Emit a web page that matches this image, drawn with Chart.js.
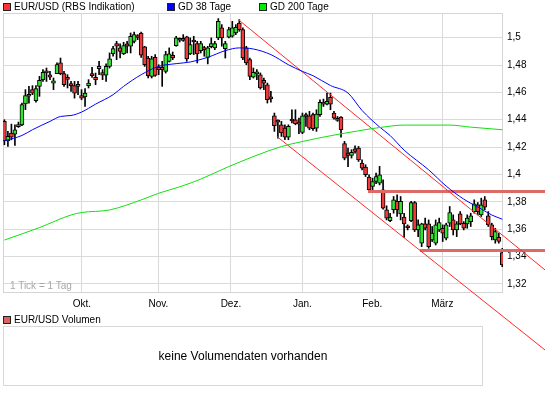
<!DOCTYPE html>
<html>
<head>
<meta charset="utf-8">
<script src="https://cdn.jsdelivr.net/npm/chart.js@4.4.1/dist/chart.umd.min.js"></script>
<style>
    body { margin: 0; background: #fff; font-family: "Liberation Sans", Arial, sans-serif; font-size: 10px; color: #000; }
    #wrap { position: relative; width: 545px; height: 395px; overflow: hidden; }
    #chart { position: absolute; left: 0; top: 0; }
    .key { position: absolute; top: 1px; line-height: 12px; padding-left: 11px; white-space: nowrap; }
    .key .box { position: absolute; left: 0; top: 2px; width: 6px; height: 6px; border: 1px solid #222; }
    #tick-note { position: absolute; left: 10px; top: 280px; line-height: 12px; color: #a8a8a8; }
    #volume { position: absolute; left: 3px; top: 326px; width: 478px; height: 58px; border: 1px solid #d8d8d8;
              text-align: center; line-height: 58px; font-size: 12px; }
</style>
</head>
<body>
<div id="wrap">
    <canvas id="chart" width="545" height="395"></canvas>
    <div class="key" style="left:3px"><span class="box" style="background:#ff3333"></span>EUR/USD (RBS Indikation)</div>
    <div class="key" style="left:167px"><span class="box" style="background:#0000ff"></span>GD 38 Tage</div>
    <div class="key" style="left:259px"><span class="box" style="background:#00ee00"></span>GD 200 Tage</div>
    <div id="tick-note">1 Tick = 1 Tag</div>
    <div class="key" style="left:3px;top:314px"><span class="box" style="background:#d9645f"></span>EUR/USD Volumen</div>
    <div id="volume">keine Volumendaten vorhanden</div>
</div>
<script>
// EUR/USD daily candles, one entry per trading day (Sep 2009 - Mar 2010)
const opens = [
    1.4388, 1.4246, 1.4302, 1.4295, 1.4350, 1.4363, 1.4515, 1.4572, 1.4620, 1.4539,
    1.4644, 1.4693, 1.4746, 1.4729, 1.4668, 1.4737, 1.4815, 1.4737, 1.4700, 1.4652,
    1.4649, 1.4644, 1.4576, 1.4566, 1.4649, 1.4724, 1.4710, 1.4773, 1.4744, 1.4725,
    1.4790, 1.4883, 1.4956, 1.4925, 1.4883, 1.4954, 1.4937, 1.4973, 1.5005, 1.5034,
    1.4932, 1.4851, 1.4717, 1.4856, 1.4783, 1.4783, 1.4754, 1.4827, 1.4871, 1.4942,
    1.4983, 1.4985, 1.5005, 1.4881, 1.4971, 1.4956, 1.4905, 1.4914, 1.4856, 1.4934,
    1.4925, 1.4998, 1.5071, 1.4920, 1.5003, 1.5010, 1.5034, 1.5107, 1.5059, 1.4925,
    1.4839, 1.4712, 1.4735, 1.4729, 1.4688, 1.4656, 1.4555, 1.4429, 1.4385, 1.4363,
    1.4339, 1.4273, 1.4393, 1.4400, 1.4370, 1.4307, 1.4425, 1.4429, 1.4437, 1.4339,
    1.4437, 1.4516, 1.4514, 1.4563, 1.4449, 1.4405, 1.4419, 1.4225, 1.4156, 1.4139,
    1.4188, 1.4193, 1.4083, 1.4054, 1.3981, 1.3912, 1.3949, 1.3937, 1.3888, 1.3742,
    1.3663, 1.3742, 1.3803, 1.3712, 1.3688, 1.3613, 1.3663, 1.3795, 1.3595, 1.3498,
    1.3639, 1.3639, 1.3522, 1.3498, 1.3595, 1.3607, 1.3534, 1.3644, 1.3668, 1.3595,
    1.3712, 1.3644, 1.3639, 1.3656, 1.3729, 1.3778, 1.3705, 1.3815, 1.3698, 1.3632,
    1.3522, 1.3541, 1.3429
];
const highs = [
    1.4400, 1.4315, 1.4368, 1.4363, 1.4383, 1.4522, 1.4620, 1.4644, 1.4649, 1.4649,
    1.4717, 1.4766, 1.4778, 1.4754, 1.4705, 1.4815, 1.4851, 1.4754, 1.4729, 1.4680,
    1.4680, 1.4680, 1.4620, 1.4627, 1.4693, 1.4783, 1.4741, 1.4827, 1.4766, 1.4808,
    1.4888, 1.4937, 1.4973, 1.4954, 1.4966, 1.4973, 1.5034, 1.5041, 1.5022, 1.5041,
    1.4937, 1.4864, 1.4864, 1.4876, 1.4802, 1.4827, 1.4900, 1.4925, 1.4895, 1.5010,
    1.4998, 1.5022, 1.5010, 1.4998, 1.5010, 1.4973, 1.4973, 1.4937, 1.4937, 1.4998,
    1.4973, 1.5139, 1.5095, 1.4973, 1.5076, 1.5119, 1.5095, 1.5131, 1.5071, 1.4937,
    1.4851, 1.4778, 1.4766, 1.4742, 1.4705, 1.4668, 1.4607, 1.4449, 1.4400, 1.4388,
    1.4363, 1.4363, 1.4473, 1.4473, 1.4412, 1.4449, 1.4449, 1.4461, 1.4449, 1.4473,
    1.4546, 1.4551, 1.4595, 1.4595, 1.4461, 1.4424, 1.4424, 1.4242, 1.4193, 1.4181,
    1.4210, 1.4205, 1.4107, 1.4071, 1.3998, 1.3973, 1.4010, 1.4059, 1.3961, 1.3771,
    1.3717, 1.3839, 1.3851, 1.3839, 1.3717, 1.3632, 1.3803, 1.3803, 1.3668, 1.3644,
    1.3681, 1.3668, 1.3620, 1.3668, 1.3681, 1.3632, 1.3644, 1.3766, 1.3705, 1.3656,
    1.3729, 1.3656, 1.3705, 1.3717, 1.3815, 1.3795, 1.3827, 1.3839, 1.3729, 1.3644,
    1.3607, 1.3571, 1.3461
];
const lows = [
    1.4217, 1.4205, 1.4253, 1.4212, 1.4344, 1.4356, 1.4474, 1.4522, 1.4583, 1.4529,
    1.4571, 1.4680, 1.4680, 1.4693, 1.4620, 1.4737, 1.4729, 1.4644, 1.4632, 1.4607,
    1.4558, 1.4583, 1.4546, 1.4498, 1.4632, 1.4710, 1.4656, 1.4729, 1.4693, 1.4680,
    1.4778, 1.4864, 1.4839, 1.4851, 1.4876, 1.4888, 1.4888, 1.4961, 1.4985, 1.4856,
    1.4790, 1.4705, 1.4705, 1.4717, 1.4729, 1.4644, 1.4741, 1.4822, 1.4839, 1.4937,
    1.4968, 1.4973, 1.4827, 1.4876, 1.4876, 1.4815, 1.4888, 1.4864, 1.4808, 1.4925,
    1.4912, 1.4985, 1.4937, 1.4851, 1.4998, 1.5003, 1.5022, 1.5046, 1.4839, 1.4802,
    1.4693, 1.4705, 1.4693, 1.4624, 1.4620, 1.4522, 1.4529, 1.4315, 1.4266, 1.4278,
    1.4254, 1.4254, 1.4376, 1.4363, 1.4298, 1.4298, 1.4351, 1.4327, 1.4322, 1.4315,
    1.4424, 1.4497, 1.4509, 1.4473, 1.4405, 1.4388, 1.4273, 1.4107, 1.4058, 1.4120,
    1.4156, 1.4095, 1.4034, 1.3985, 1.3876, 1.3888, 1.3932, 1.3924, 1.3746, 1.3668,
    1.3656, 1.3717, 1.3693, 1.3668, 1.3541, 1.3595, 1.3656, 1.3583, 1.3546, 1.3473,
    1.3595, 1.3461, 1.3510, 1.3485, 1.3583, 1.3510, 1.3522, 1.3620, 1.3558, 1.3546,
    1.3632, 1.3595, 1.3607, 1.3620, 1.3717, 1.3705, 1.3693, 1.3742, 1.3620, 1.3522,
    1.3498, 1.3498, 1.3327
];
const closes = [
    1.4246, 1.4278, 1.4273, 1.4327, 1.4356, 1.4510, 1.4576, 1.4578, 1.4595, 1.4627,
    1.4688, 1.4746, 1.4742, 1.4712, 1.4685, 1.4803, 1.4737, 1.4656, 1.4695, 1.4649,
    1.4595, 1.4649, 1.4558, 1.4595, 1.4668, 1.4722, 1.4693, 1.4790, 1.4725, 1.4790,
    1.4846, 1.4920, 1.4937, 1.4900, 1.4942, 1.4937, 1.5010, 1.5022, 1.5001, 1.4871,
    1.4802, 1.4722, 1.4846, 1.4724, 1.4766, 1.4766, 1.4876, 1.4881, 1.4851, 1.4998,
    1.4981, 1.4980, 1.4844, 1.4949, 1.4968, 1.4881, 1.4956, 1.4912, 1.4925, 1.4956,
    1.4956, 1.5119, 1.4998, 1.4956, 1.5059, 1.5071, 1.5076, 1.5059, 1.4851, 1.4815,
    1.4717, 1.4746, 1.4739, 1.4632, 1.4668, 1.4546, 1.4553, 1.4356, 1.4383, 1.4303,
    1.4273, 1.4351, 1.4391, 1.4371, 1.4368, 1.4429, 1.4424, 1.4339, 1.4334, 1.4441,
    1.4527, 1.4514, 1.4534, 1.4514, 1.4412, 1.4395, 1.4327, 1.4120, 1.4139, 1.4161,
    1.4168, 1.4107, 1.4046, 1.3998, 1.3888, 1.3949, 1.3985, 1.3998, 1.3754, 1.3681,
    1.3688, 1.3815, 1.3742, 1.3803, 1.3639, 1.3611, 1.3795, 1.3595, 1.3632, 1.3639,
    1.3607, 1.3473, 1.3571, 1.3632, 1.3649, 1.3571, 1.3632, 1.3722, 1.3595, 1.3639,
    1.3639, 1.3607, 1.3681, 1.3698, 1.3785, 1.3729, 1.3778, 1.3761, 1.3632, 1.3546,
    1.3583, 1.3510, 1.3339
];

const gd38 = [
    [0, 1.4246], [5, 1.4285], [8, 1.4327], [13, 1.4388], [16, 1.4424], [19, 1.4431],
    [22, 1.4456], [26, 1.4514], [31, 1.4583], [34, 1.4644], [39, 1.4729], [44, 1.4790],
    [49, 1.4810], [53, 1.4822], [58, 1.4856], [63, 1.4905], [67, 1.4925], [71, 1.4917],
    [76, 1.4876], [81, 1.4802], [85, 1.4753], [88, 1.4722], [93, 1.4650], [98, 1.4595],
    [102, 1.4468], [107, 1.4347], [110, 1.4285], [114, 1.4178], [121, 1.4034], [126, 1.3915],
    [131, 1.3820], [136, 1.3748], [139, 1.3704], [142, 1.3673]
];
const gd200 = [
    [0, 1.3521], [10, 1.3612], [19, 1.3704], [22, 1.3722], [30, 1.3741], [39, 1.3814],
    [44, 1.3863], [50, 1.3910], [56, 1.3966], [64, 1.4058], [79, 1.4204], [85, 1.4241],
    [93, 1.4283], [101, 1.4319], [107, 1.4343], [114, 1.4361], [127, 1.4361], [133, 1.4346],
    [142, 1.4327]
];

// Trend channel and horizontal support / resistance
const trendTop = [[66.7, 1.5132], [160, 1.3181]];
const trendBottom = [[77.7, 1.4278], [160, 1.2599]];
const resistance = [[103.7, 1.3875], [160, 1.3875]];
const support = [[118.5, 1.3444], [160, 1.3444]];

// Axis ticks
const monthTicks = [22.1, 43.9, 64.6, 85.0, 104.9, 124.9];
const monthLabels = ['Okt.', 'Nov.', 'Dez.', 'Jan.', 'Feb.', 'März'];
const priceTicks = [1.32, 1.34, 1.36, 1.38, 1.4, 1.42, 1.44, 1.46, 1.48, 1.5];

document.addEventListener('DOMContentLoaded', function() {
    Chart.defaults.font.family = '"Liberation Sans", Arial, sans-serif';
    Chart.defaults.font.size = 10;
    Chart.defaults.color = '#000';

    const days = closes.map((c, i) => i);
    const toPoints = pairs => pairs.map(p => ({ x: p[0], y: p[1] }));

    function lineSet(pairs, color, width, clip) {
        return {
            type: 'line',
            data: toPoints(pairs),
            borderColor: color,
            borderWidth: width,
            pointRadius: 0,
            cubicInterpolationMode: 'monotone',
            clip: clip,
            order: 0
        };
    }

    // Frame around the plot area
    const frame = {
        id: 'frame',
        beforeDatasetsDraw(chart) {
            const { ctx, chartArea: a } = chart;
            ctx.save();
            ctx.strokeStyle = '#d4d4d4';
            ctx.lineWidth = 1;
            ctx.strokeRect(Math.round(a.left) + 0.5, Math.round(a.top) + 0.5,
                Math.round(a.right - a.left) - 1, Math.round(a.bottom - a.top) - 1);
            ctx.restore();
        }
    };

    new Chart(document.getElementById('chart'), {
        type: 'bar',
        data: {
            datasets: [
                {
                    // wicks
                    data: days.map(i => ({ x: i, y: [lows[i], highs[i]] })),
                    backgroundColor: '#000',
                    barThickness: 1,
                    grouped: false,
                    order: 2
                },
                {
                    // bodies
                    data: days.map(i => ({ x: i, y: [opens[i], closes[i]] })),
                    backgroundColor: days.map(i => closes[i] >= opens[i] ? '#33e533' : '#f23a3a'),
                    borderColor: '#000',
                    borderWidth: 1,
                    borderSkipped: false,
                    barThickness: 4,
                    minBarLength: 2,
                    grouped: false,
                    order: 1
                },
                lineSet(gd200, '#11e011', 1, true),
                lineSet(gd38, '#0000ff', 1, true),
                lineSet(trendTop, '#ff2a2a', 1, false),
                lineSet(trendBottom, '#ff2a2a', 1, false),
                lineSet(resistance, '#dd6a66', 3, false),
                lineSet(support, '#dd6a66', 3, false)
            ]
        },
        options: {
            responsive: false,
            animation: false,
            events: [],
            layout: { padding: { left: 3, top: 13, right: 0, bottom: 0 } },
            plugins: { legend: { display: false }, tooltip: { enabled: false } },
            scales: {
                x: {
                    type: 'linear',
                    min: -0.4,
                    max: 142.2,
                    offset: false,
                    afterBuildTicks: axis => { axis.ticks = monthTicks.map(v => ({ value: v })); },
                    afterFit: axis => { axis.height = 102; },
                    ticks: {
                        autoSkip: false,
                        maxRotation: 0,
                        padding: 5,
                        callback: (value, index) => monthLabels[index]
                    },
                    grid: { color: '#dadada', drawTicks: false, offset: false },
                    border: { display: false }
                },
                y: {
                    position: 'right',
                    min: 1.3134,
                    max: 1.518,
                    afterBuildTicks: axis => { axis.ticks = priceTicks.map(v => ({ value: v })); },
                    afterFit: axis => { axis.width = 42; },
                    ticks: {
                        padding: 4,
                        callback: value => String(value).replace('.', ',')
                    },
                    grid: { color: '#dadada', drawTicks: false },
                    border: { display: false }
                }
            }
        },
        plugins: [frame]
    });
});
</script>
</body>
</html>
